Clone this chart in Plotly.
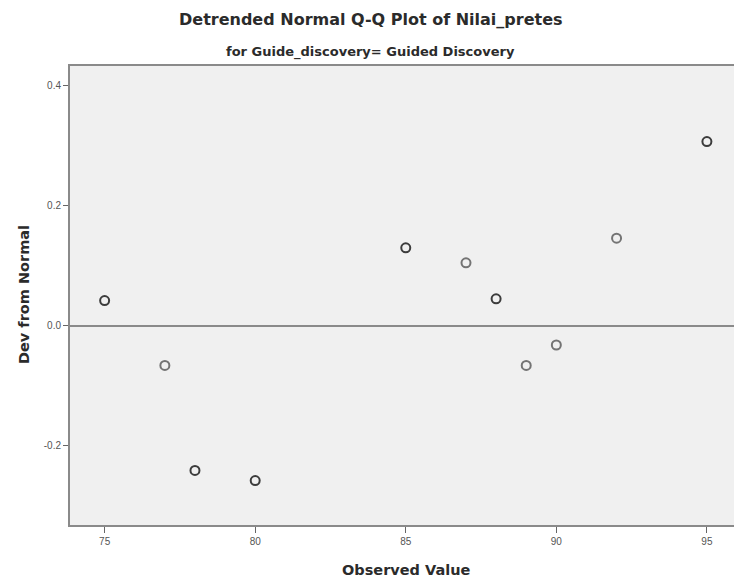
import plotly.graph_objects as go

# Data
observed = [75, 77, 78, 80, 85, 87, 88, 89, 90, 92, 95]
dev_from_normal = [0.042, -0.066, -0.241, -0.258, 0.130, 0.105, 0.045, -0.066, -0.032, 0.146, 0.307]
counts = [2, 1, 2, 2, 2, 1, 2, 1, 1, 1, 2]  # darker where cases overlap

x_ticks = [75, 80, 85, 90, 95]
y_ticks = [-0.2, 0.0, 0.2, 0.4]
y_tick_text = ["-0.2", "0.0", "0.2", "0.4"]

title = "Detrended Normal Q-Q Plot of Nilai_pretes"
subtitle = "for Guide_discovery= Guided Discovery"
x_title = "Observed Value"
y_title = "Dev from Normal"

colors = ["#3c3c3c" if c > 1 else "#747474" for c in counts]

fig = go.Figure()
fig.add_trace(go.Scatter(
    x=observed, y=dev_from_normal, mode="markers",
    marker=dict(symbol="circle-open", size=9, color=colors,
                line=dict(width=2, color=colors)),
    showlegend=False, hoverinfo="x+y",
))

title_font = "DejaVu Sans, Verdana, sans-serif"
tick_font = "Liberation Sans, Arial, sans-serif"
fig.update_layout(
    width=734, height=585,
    margin=dict(l=70, r=0, t=66, b=60),
    paper_bgcolor="white",
    plot_bgcolor="#f0f0f0",
    font=dict(family=tick_font, color="#333"),
    xaxis=dict(
        range=[73.85, 95.9], tickvals=x_ticks,
        showgrid=False, zeroline=False,
        showline=True, linecolor="#8a8a8a", linewidth=2, mirror=True,
        ticks="outside", ticklen=6, tickcolor="#666", tickwidth=1,
        tickfont=dict(size=10, color="#555"),
    ),
    yaxis=dict(
        range=[-0.332, 0.433], tickvals=y_ticks, ticktext=y_tick_text,
        showgrid=False,
        zeroline=True, zerolinecolor="#8a8a8a", zerolinewidth=2,
        showline=True, linecolor="#8a8a8a", linewidth=2, mirror=False,
        ticks="outside", ticklen=5, tickcolor="#666", tickwidth=1,
        tickfont=dict(size=10, color="#555"),
    ),
    annotations=[
        dict(text=f"<b>{title}</b>", x=371, y=585 - 19, xref="paper", yref="paper",
             showarrow=False, font=dict(family=title_font, size=16, color="#2b2b2b")),
        dict(text=f"<b>{subtitle}</b>", x=370, y=585 - 52, xref="paper", yref="paper",
             showarrow=False, font=dict(family=title_font, size=13, color="#2b2b2b")),
        dict(text=f"<b>{x_title}</b>", x=406, y=585 - 570, xref="paper", yref="paper",
             showarrow=False, font=dict(family=title_font, size=14.5, color="#2b2b2b")),
        dict(text=f"<b>{y_title}</b>", x=24, y=585 - 295, xref="paper", yref="paper",
             showarrow=False, textangle=-90, font=dict(family=title_font, size=14.5, color="#2b2b2b")),
    ],
)

# convert pixel positions of annotations into paper coordinates
pw, ph = 734 - 70 - 0, 585 - 66 - 60
for a in fig.layout.annotations:
    a.x = (a.x - 70) / pw
    a.y = (a.y - 60) / ph
    a.xanchor = "center"
    a.yanchor = "middle"

fig.write_html("out.html")
